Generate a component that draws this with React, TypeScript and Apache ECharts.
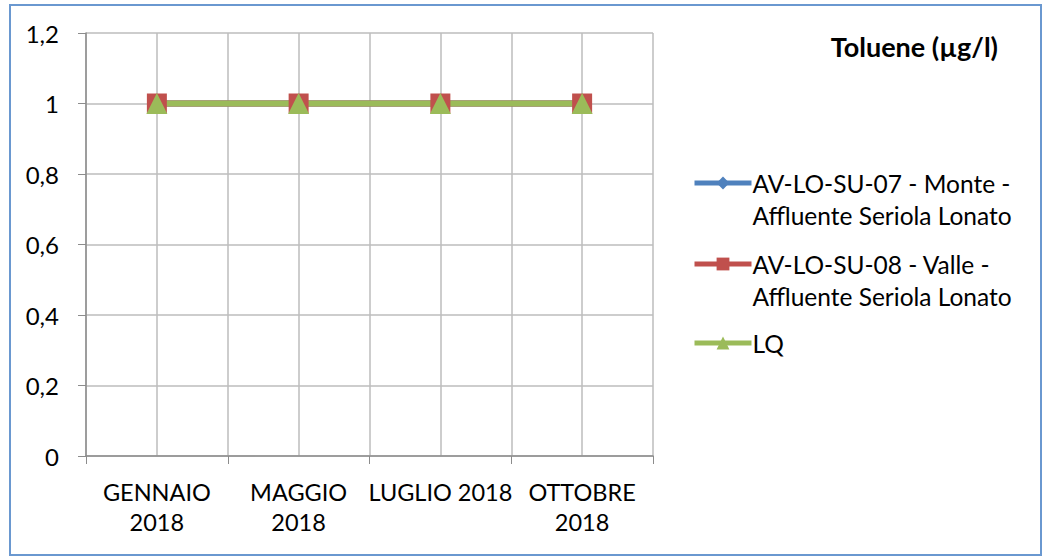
import React, { useEffect, useRef } from "react";
import * as echarts from "echarts";

const categories = ["GENNAIO\n2018", "MAGGIO\n2018", "LUGLIO 2018", "OTTOBRE\n2018"];
const monteValues = [1, 1, 1, 1];
const valleValues = [1, 1, 1, 1];
const lqValues = [1, 1, 1, 1];
const seriesNames = [
  "AV-LO-SU-07 - Monte - Affluente Seriola Lonato",
  "AV-LO-SU-08 - Valle - Affluente Seriola Lonato",
  "LQ",
];
const titleText = "Toluene (µg/l)";

const FONT = "Lato, 'Noto Sans', sans-serif";

export default function App() {
  const ref = useRef<HTMLDivElement>(null);
  useEffect(() => {
    document.body.style.margin = "0";
    const chart = echarts.init(ref.current!, null, { renderer: "svg" });
    const legendLabel = (name: string) =>
      name.indexOf(" - Affluente") >= 0
        ? "\n" + name.replace(" - Affluente", " -\nAffluente")
        : name;
    const legendBase = {
      orient: "vertical",
      left: 692,
      padding: 0,
      itemWidth: 57,
      itemHeight: 16,
      formatter: legendLabel,
      lineStyle: { width: 5 },
      textStyle: { fontFamily: FONT, fontSize: 24.5, color: "#000", lineHeight: 32, padding: [0, 0, 0, -4] },
    };
    chart.setOption({
      animation: false,
      backgroundColor: "#ffffff",
      textStyle: { fontFamily: FONT },
      title: {
        text: titleText,
        right: 58,
        top: 33,
        padding: 0,
        textStyle: { fontFamily: FONT, fontWeight: "bold", fontSize: 27, color: "#000" },
      },
      graphic: [
        {
          type: "rect",
          shape: { x: 10, y: 5, width: 1031, height: 550 },
          style: { fill: "none", stroke: "#6a98d0", lineWidth: 2 },
          silent: true,
        },
      ],
      legend: [
        { ...legendBase, top: 135, data: [seriesNames[0]] },
        { ...legendBase, top: 216, data: [seriesNames[1]] },
        { ...legendBase, top: 327, data: [seriesNames[2]] },
      ],
      grid: { left: 86, right: 403, top: 33, bottom: 101, containLabel: false },
      xAxis: [
        {
          type: "category",
          data: categories,
          boundaryGap: true,
          axisLine: { show: true, lineStyle: { color: "#8c8c8c", width: 1.5 } },
          axisTick: { show: true, length: 8, lineStyle: { color: "#8c8c8c" } },
          splitLine: { show: false },
          axisLabel: {
            color: "#000",
            fontFamily: FONT,
            fontSize: 23.5,
            lineHeight: 30,
            margin: 21,
            interval: 0,
          },
        },
        {
          type: "value",
          min: 0,
          max: 8,
          interval: 1,
          position: "bottom",
          axisLine: { show: false },
          axisTick: { show: false },
          axisLabel: { show: false },
          splitLine: { show: true, lineStyle: { color: "#bdbdbd", width: 1.5 } },
        },
      ],
      yAxis: {
        type: "value",
        min: 0,
        max: 1.2,
        interval: 0.2,
        axisLine: { show: true, lineStyle: { color: "#8c8c8c", width: 1.5 } },
        axisTick: { show: true, length: 8, lineStyle: { color: "#8c8c8c" } },
        splitLine: { show: true, lineStyle: { color: "#bdbdbd", width: 1.5 } },
        axisLabel: {
          color: "#000",
          fontFamily: FONT,
          fontSize: 24,
          margin: 27,
          formatter: (v: number) => (Math.round(v * 10) / 10).toString().replace(".", ","),
        },
      },
      series: [
        {
          name: seriesNames[0],
          type: "line",
          data: monteValues,
          symbol: "diamond",
          symbolSize: 18,
          itemStyle: { color: "#4F81BD" },
          lineStyle: { color: "#4F81BD", width: 6 },
        },
        {
          name: seriesNames[1],
          type: "line",
          data: valleValues,
          symbol: "rect",
          symbolSize: 20,
          itemStyle: { color: "#C0504D" },
          lineStyle: { color: "#C0504D", width: 6 },
        },
        {
          name: seriesNames[2],
          type: "line",
          data: lqValues,
          symbol: "triangle",
          symbolSize: 21,
          itemStyle: { color: "#9BBB59" },
          lineStyle: { color: "#9BBB59", width: 6 },
        },
      ],
    });
    return () => chart.dispose();
  }, []);
  return <div ref={ref} style={{ width: 1056, height: 557 }} />;
}
